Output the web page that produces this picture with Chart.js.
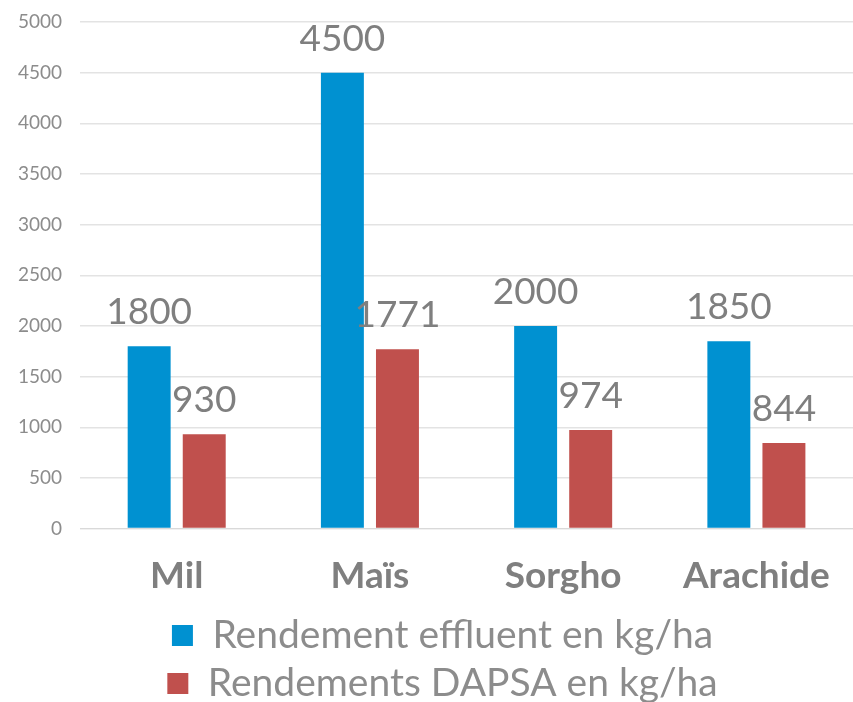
<!DOCTYPE html>
<html>
<head>
<meta charset="utf-8">
<script src="https://cdn.jsdelivr.net/npm/chart.js@4/dist/chart.umd.min.js"></script>
<style>
  html, body { margin: 0; padding: 0; background: #fff; }
  #wrap { width: 853px; height: 702px; }
</style>
</head>
<body>
<div id="wrap"><canvas id="mychart"></canvas></div>
<script>
let categories = ['Mil', 'Maïs', 'Sorgho', 'Arachide'];
let effluent = [1800, 4500, 2000, 1850];
let dapsa = [930, 1771, 974, 844];
let yTicks = [0, 500, 1000, 1500, 2000, 2500, 3000, 3500, 4000, 4500, 5000];

// simple value labels above bars
let valueLabels = {
    id: 'valueLabels',
    afterLayout(chart) {
        // nudge legend a bit to the left
        chart.legend.left -= 24;
        chart.legend.right -= 24;
    },
    afterDatasetsDraw(chart) {
        let c = chart.ctx;
        c.save();
        c.font = '37px Lato';
        c.fillStyle = '#7f7f7f';
        c.textAlign = 'center';
        c.textBaseline = 'middle';
        chart.data.datasets.forEach((ds, i) => {
            chart.getDatasetMeta(i).data.forEach((bar, j) => {
                c.fillText(ds.data[j], bar.x, bar.y - 34);
            });
        });
        c.restore();
    }
};

let ctx = document.querySelector('#mychart').getContext('2d');
let myChart = new Chart(ctx, {
    type: 'bar',
    data: {
        labels: categories,
        datasets: [{
            label: 'Rendement effluent en kg/ha',
            data: effluent,
            backgroundColor: '#0091d1'
        }, {
            label: 'Rendements DAPSA en kg/ha',
            data: dapsa,
            backgroundColor: '#c0504d'
        }]
    },
    options: {
        responsive: true,
        maintainAspectRatio: false,
        animation: false,
        categoryPercentage: 0.57,
        barPercentage: 0.78,
        layout: { padding: { top: 0, right: 0, left: 0, bottom: -11 } },
        scales: {
            x: {
                afterFit: axis => { axis.height -= 8; },
                grid: { display: false },
                border: { color: '#d9d9d9', width: 1 },
                ticks: {
                    color: '#7f7f7f',
                    font: { family: 'Lato', size: 37, weight: 'bold' },
                    padding: 17
                }
            },
            y: {
                min: 0,
                max: 5000,
                afterBuildTicks: axis => { axis.ticks = yTicks.map(v => ({ value: v })); },
                afterFit: axis => { axis.paddingTop = 22; axis.paddingBottom = 0; },
                grid: { color: '#e3e3e3', lineWidth: 1.5, drawTicks: false },
                border: { display: false },
                ticks: {
                    color: '#8c8c8c',
                    font: { family: 'Lato', size: 19 },
                    padding: 18,
                    callback: v => String(v)
                }
            }
        },
        plugins: {
            legend: {
                position: 'bottom',
                fullSize: false,
                labels: {
                    color: '#8c8c8c',
                    font: { family: 'Lato', size: 39 },
                    boxWidth: 21,
                    boxHeight: 21,
                    padding: 9
                }
            },
            tooltip: { enabled: false }
        }
    },
    plugins: [valueLabels]
});
</script>
</body>
</html>
